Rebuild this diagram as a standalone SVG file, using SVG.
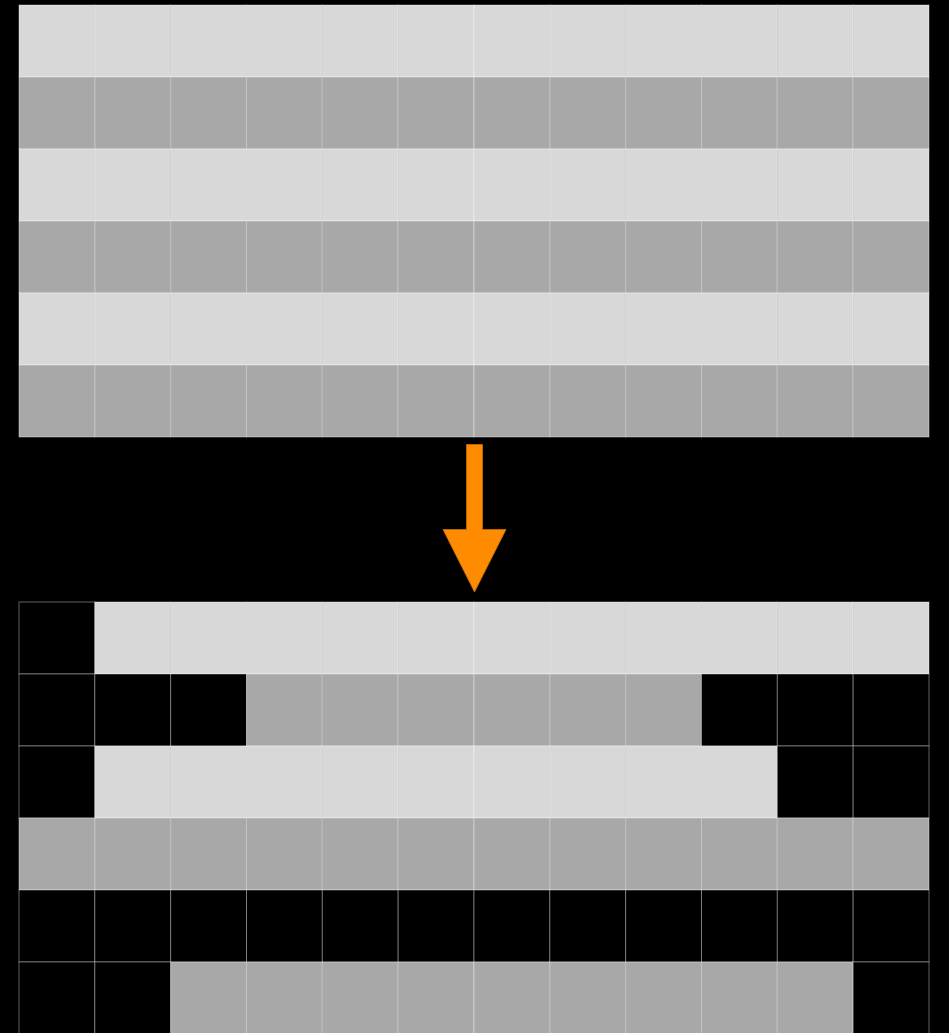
<svg xmlns="http://www.w3.org/2000/svg" width="949" height="1033" viewBox="0 0 949 1033">
<defs>
<style>
.c{stroke:#ffffff;stroke-opacity:0.38;stroke-width:1}
.l{fill:#d8d8d8}
.d{fill:#a8a8a8}
.k{fill:#000000}
</style>
<pattern id="colsTop" x="19" y="5" width="75.8333" height="144" patternUnits="userSpaceOnUse">
<rect x="0" y="0" width="75.8333" height="72" class="l c"/>
<rect x="0" y="72" width="75.8333" height="72" class="d c"/>
</pattern>
</defs>
<rect x="0" y="0" width="949" height="1033" fill="#000"/>
<g id="grid-top">
<g id="top-r0"><rect x="19" y="5" width="75.83" height="72" class="l c"/><rect x="94.83" y="5" width="75.83" height="72" class="l c"/><rect x="170.67" y="5" width="75.83" height="72" class="l c"/><rect x="246.5" y="5" width="75.83" height="72" class="l c"/><rect x="322.33" y="5" width="75.83" height="72" class="l c"/><rect x="398.17" y="5" width="75.83" height="72" class="l c"/><rect x="474" y="5" width="75.83" height="72" class="l c"/><rect x="549.83" y="5" width="75.83" height="72" class="l c"/><rect x="625.67" y="5" width="75.83" height="72" class="l c"/><rect x="701.5" y="5" width="75.83" height="72" class="l c"/><rect x="777.33" y="5" width="75.83" height="72" class="l c"/><rect x="853.17" y="5" width="75.83" height="72" class="l c"/></g>
<g id="top-r1"><rect x="19" y="77" width="75.83" height="72" class="d c"/><rect x="94.83" y="77" width="75.83" height="72" class="d c"/><rect x="170.67" y="77" width="75.83" height="72" class="d c"/><rect x="246.5" y="77" width="75.83" height="72" class="d c"/><rect x="322.33" y="77" width="75.83" height="72" class="d c"/><rect x="398.17" y="77" width="75.83" height="72" class="d c"/><rect x="474" y="77" width="75.83" height="72" class="d c"/><rect x="549.83" y="77" width="75.83" height="72" class="d c"/><rect x="625.67" y="77" width="75.83" height="72" class="d c"/><rect x="701.5" y="77" width="75.83" height="72" class="d c"/><rect x="777.33" y="77" width="75.83" height="72" class="d c"/><rect x="853.17" y="77" width="75.83" height="72" class="d c"/></g>
<g id="top-r2"><rect x="19" y="149" width="75.83" height="72" class="l c"/><rect x="94.83" y="149" width="75.83" height="72" class="l c"/><rect x="170.67" y="149" width="75.83" height="72" class="l c"/><rect x="246.5" y="149" width="75.83" height="72" class="l c"/><rect x="322.33" y="149" width="75.83" height="72" class="l c"/><rect x="398.17" y="149" width="75.83" height="72" class="l c"/><rect x="474" y="149" width="75.83" height="72" class="l c"/><rect x="549.83" y="149" width="75.83" height="72" class="l c"/><rect x="625.67" y="149" width="75.83" height="72" class="l c"/><rect x="701.5" y="149" width="75.83" height="72" class="l c"/><rect x="777.33" y="149" width="75.83" height="72" class="l c"/><rect x="853.17" y="149" width="75.83" height="72" class="l c"/></g>
<g id="top-r3"><rect x="19" y="221" width="75.83" height="72" class="d c"/><rect x="94.83" y="221" width="75.83" height="72" class="d c"/><rect x="170.67" y="221" width="75.83" height="72" class="d c"/><rect x="246.5" y="221" width="75.83" height="72" class="d c"/><rect x="322.33" y="221" width="75.83" height="72" class="d c"/><rect x="398.17" y="221" width="75.83" height="72" class="d c"/><rect x="474" y="221" width="75.83" height="72" class="d c"/><rect x="549.83" y="221" width="75.83" height="72" class="d c"/><rect x="625.67" y="221" width="75.83" height="72" class="d c"/><rect x="701.5" y="221" width="75.83" height="72" class="d c"/><rect x="777.33" y="221" width="75.83" height="72" class="d c"/><rect x="853.17" y="221" width="75.83" height="72" class="d c"/></g>
<g id="top-r4"><rect x="19" y="293" width="75.83" height="72" class="l c"/><rect x="94.83" y="293" width="75.83" height="72" class="l c"/><rect x="170.67" y="293" width="75.83" height="72" class="l c"/><rect x="246.5" y="293" width="75.83" height="72" class="l c"/><rect x="322.33" y="293" width="75.83" height="72" class="l c"/><rect x="398.17" y="293" width="75.83" height="72" class="l c"/><rect x="474" y="293" width="75.83" height="72" class="l c"/><rect x="549.83" y="293" width="75.83" height="72" class="l c"/><rect x="625.67" y="293" width="75.83" height="72" class="l c"/><rect x="701.5" y="293" width="75.83" height="72" class="l c"/><rect x="777.33" y="293" width="75.83" height="72" class="l c"/><rect x="853.17" y="293" width="75.83" height="72" class="l c"/></g>
<g id="top-r5"><rect x="19" y="365" width="75.83" height="72" class="d c"/><rect x="94.83" y="365" width="75.83" height="72" class="d c"/><rect x="170.67" y="365" width="75.83" height="72" class="d c"/><rect x="246.5" y="365" width="75.83" height="72" class="d c"/><rect x="322.33" y="365" width="75.83" height="72" class="d c"/><rect x="398.17" y="365" width="75.83" height="72" class="d c"/><rect x="474" y="365" width="75.83" height="72" class="d c"/><rect x="549.83" y="365" width="75.83" height="72" class="d c"/><rect x="625.67" y="365" width="75.83" height="72" class="d c"/><rect x="701.5" y="365" width="75.83" height="72" class="d c"/><rect x="777.33" y="365" width="75.83" height="72" class="d c"/><rect x="853.17" y="365" width="75.83" height="72" class="d c"/></g>
</g>
<g id="arrow">
<path d="M466.5,444.5 H482.5 V529.5 H506 L474.5,592 L443,529.5 H466.5 Z" fill="#ff8c00" stroke="#c86e00" stroke-width="0.8"/>
</g>
<g id="grid-bottom">
<g id="bot-r0"><rect x="19" y="602" width="75.83" height="72" class="k c"/><rect x="94.83" y="602" width="75.83" height="72" class="l c"/><rect x="170.67" y="602" width="75.83" height="72" class="l c"/><rect x="246.5" y="602" width="75.83" height="72" class="l c"/><rect x="322.33" y="602" width="75.83" height="72" class="l c"/><rect x="398.17" y="602" width="75.83" height="72" class="l c"/><rect x="474" y="602" width="75.83" height="72" class="l c"/><rect x="549.83" y="602" width="75.83" height="72" class="l c"/><rect x="625.67" y="602" width="75.83" height="72" class="l c"/><rect x="701.5" y="602" width="75.83" height="72" class="l c"/><rect x="777.33" y="602" width="75.83" height="72" class="l c"/><rect x="853.17" y="602" width="75.83" height="72" class="l c"/></g>
<g id="bot-r1"><rect x="19" y="674" width="75.83" height="72" class="k c"/><rect x="94.83" y="674" width="75.83" height="72" class="k c"/><rect x="170.67" y="674" width="75.83" height="72" class="k c"/><rect x="246.5" y="674" width="75.83" height="72" class="d c"/><rect x="322.33" y="674" width="75.83" height="72" class="d c"/><rect x="398.17" y="674" width="75.83" height="72" class="d c"/><rect x="474" y="674" width="75.83" height="72" class="d c"/><rect x="549.83" y="674" width="75.83" height="72" class="d c"/><rect x="625.67" y="674" width="75.83" height="72" class="d c"/><rect x="701.5" y="674" width="75.83" height="72" class="k c"/><rect x="777.33" y="674" width="75.83" height="72" class="k c"/><rect x="853.17" y="674" width="75.83" height="72" class="k c"/></g>
<g id="bot-r2"><rect x="19" y="746" width="75.83" height="72" class="k c"/><rect x="94.83" y="746" width="75.83" height="72" class="l c"/><rect x="170.67" y="746" width="75.83" height="72" class="l c"/><rect x="246.5" y="746" width="75.83" height="72" class="l c"/><rect x="322.33" y="746" width="75.83" height="72" class="l c"/><rect x="398.17" y="746" width="75.83" height="72" class="l c"/><rect x="474" y="746" width="75.83" height="72" class="l c"/><rect x="549.83" y="746" width="75.83" height="72" class="l c"/><rect x="625.67" y="746" width="75.83" height="72" class="l c"/><rect x="701.5" y="746" width="75.83" height="72" class="l c"/><rect x="777.33" y="746" width="75.83" height="72" class="k c"/><rect x="853.17" y="746" width="75.83" height="72" class="k c"/></g>
<g id="bot-r3"><rect x="19" y="818" width="75.83" height="72" class="d c"/><rect x="94.83" y="818" width="75.83" height="72" class="d c"/><rect x="170.67" y="818" width="75.83" height="72" class="d c"/><rect x="246.5" y="818" width="75.83" height="72" class="d c"/><rect x="322.33" y="818" width="75.83" height="72" class="d c"/><rect x="398.17" y="818" width="75.83" height="72" class="d c"/><rect x="474" y="818" width="75.83" height="72" class="d c"/><rect x="549.83" y="818" width="75.83" height="72" class="d c"/><rect x="625.67" y="818" width="75.83" height="72" class="d c"/><rect x="701.5" y="818" width="75.83" height="72" class="d c"/><rect x="777.33" y="818" width="75.83" height="72" class="d c"/><rect x="853.17" y="818" width="75.83" height="72" class="d c"/></g>
<g id="bot-r4"><rect x="19" y="890" width="75.83" height="72" class="k c"/><rect x="94.83" y="890" width="75.83" height="72" class="k c"/><rect x="170.67" y="890" width="75.83" height="72" class="k c"/><rect x="246.5" y="890" width="75.83" height="72" class="k c"/><rect x="322.33" y="890" width="75.83" height="72" class="k c"/><rect x="398.17" y="890" width="75.83" height="72" class="k c"/><rect x="474" y="890" width="75.83" height="72" class="k c"/><rect x="549.83" y="890" width="75.83" height="72" class="k c"/><rect x="625.67" y="890" width="75.83" height="72" class="k c"/><rect x="701.5" y="890" width="75.83" height="72" class="k c"/><rect x="777.33" y="890" width="75.83" height="72" class="k c"/><rect x="853.17" y="890" width="75.83" height="72" class="k c"/></g>
<g id="bot-r5"><rect x="19" y="962" width="75.83" height="72" class="k c"/><rect x="94.83" y="962" width="75.83" height="72" class="k c"/><rect x="170.67" y="962" width="75.83" height="72" class="d c"/><rect x="246.5" y="962" width="75.83" height="72" class="d c"/><rect x="322.33" y="962" width="75.83" height="72" class="d c"/><rect x="398.17" y="962" width="75.83" height="72" class="d c"/><rect x="474" y="962" width="75.83" height="72" class="d c"/><rect x="549.83" y="962" width="75.83" height="72" class="d c"/><rect x="625.67" y="962" width="75.83" height="72" class="d c"/><rect x="701.5" y="962" width="75.83" height="72" class="d c"/><rect x="777.33" y="962" width="75.83" height="72" class="d c"/><rect x="853.17" y="962" width="75.83" height="72" class="k c"/></g>
</g>
</svg>
